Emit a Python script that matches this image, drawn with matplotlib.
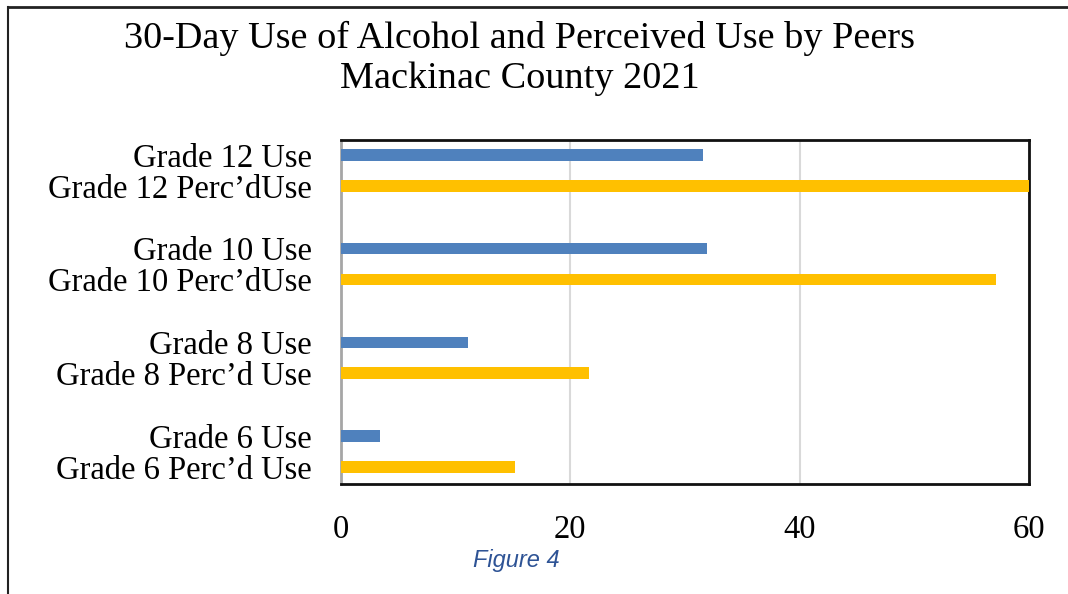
import matplotlib.pyplot as plt
from matplotlib.lines import Line2D

# 30-day alcohol use vs perceived use by peers, Mackinac County 2021
grades = ["Grade 12", "Grade 10", "Grade 8", "Grade 6"]
use_labels = ["Grade 12 Use", "Grade 10 Use", "Grade 8 Use", "Grade 6 Use"]
perc_labels = ["Grade 12 Perc\u2019dUse", "Grade 10 Perc\u2019dUse",
               "Grade 8 Perc\u2019d Use", "Grade 6 Perc\u2019d Use"]
use_pct = [31.6, 31.9, 11.1, 3.4]
perc_pct = [60.0, 57.1, 21.6, 15.2]

W, H = 1068, 594
fig = plt.figure(figsize=(W / 100, H / 100), dpi=100)
serif = ["Liberation Serif", "DejaVu Serif"]

# plot box in pixels: left 341, right 1029, top 140, bottom 484
ax = fig.add_axes([341 / W, (H - 484) / H, (1029 - 341) / W, (484 - 140) / H])

pos = list(range(len(grades)))
off = 0.165
bh = 0.125
ax.barh([p - off for p in pos], use_pct, height=bh, color="#4F81BD", zorder=3)
ax.barh([p + off for p in pos], perc_pct, height=bh, color="#FFC000", zorder=3,
        clip_on=False)

ax.set_xlim(0, 60)
ax.set_ylim(3 + 0.346, -0.324)
ax.set_xticks([0, 20, 40, 60])
ax.set_xticklabels(["0", "20", "40", "60"], fontfamily=serif, fontsize=23.5)
ticks = []
labels = []
for p, u, q in zip(pos, use_labels, perc_labels):
    ticks += [p - off, p + off]
    labels += [u, q]
ax.set_yticks(ticks)
ax.set_yticklabels(labels, fontfamily=serif, fontsize=23.5)
ax.tick_params(axis="both", length=0)
ax.tick_params(axis="x", pad=22)
ax.tick_params(axis="y", pad=21)

ax.grid(axis="x", color="#D9D9D9", linewidth=1.5, zorder=0)
ax.spines["left"].set_color("#A6A6A6")
ax.spines["left"].set_linewidth(2)
for side in ["top", "right", "bottom"]:
    ax.spines[side].set_color("#111111")
    ax.spines[side].set_linewidth(2)

fig.text(520 / W, 1 - 38 / H, "30-Day Use of Alcohol and Perceived Use by Peers",
         ha="center", va="center", fontfamily=serif, fontsize=27.5)
fig.text(520 / W, 1 - 79 / H, "Mackinac County 2021",
         ha="center", va="center", fontfamily=serif, fontsize=27.5)
fig.text(516 / W, 1 - 561 / H, "Figure 4", ha="center", va="center",
         fontfamily="Liberation Sans", style="italic", fontsize=17,
         color="#2E5395")

# page frame lines
fig.add_artist(Line2D([8 / W, 1], [1 - 7 / H, 1 - 7 / H], color="#222222", linewidth=2))
fig.add_artist(Line2D([8 / W, 8 / W], [0, 1 - 7 / H], color="#222222", linewidth=1.5))

fig.savefig("out.png", dpi=100)
